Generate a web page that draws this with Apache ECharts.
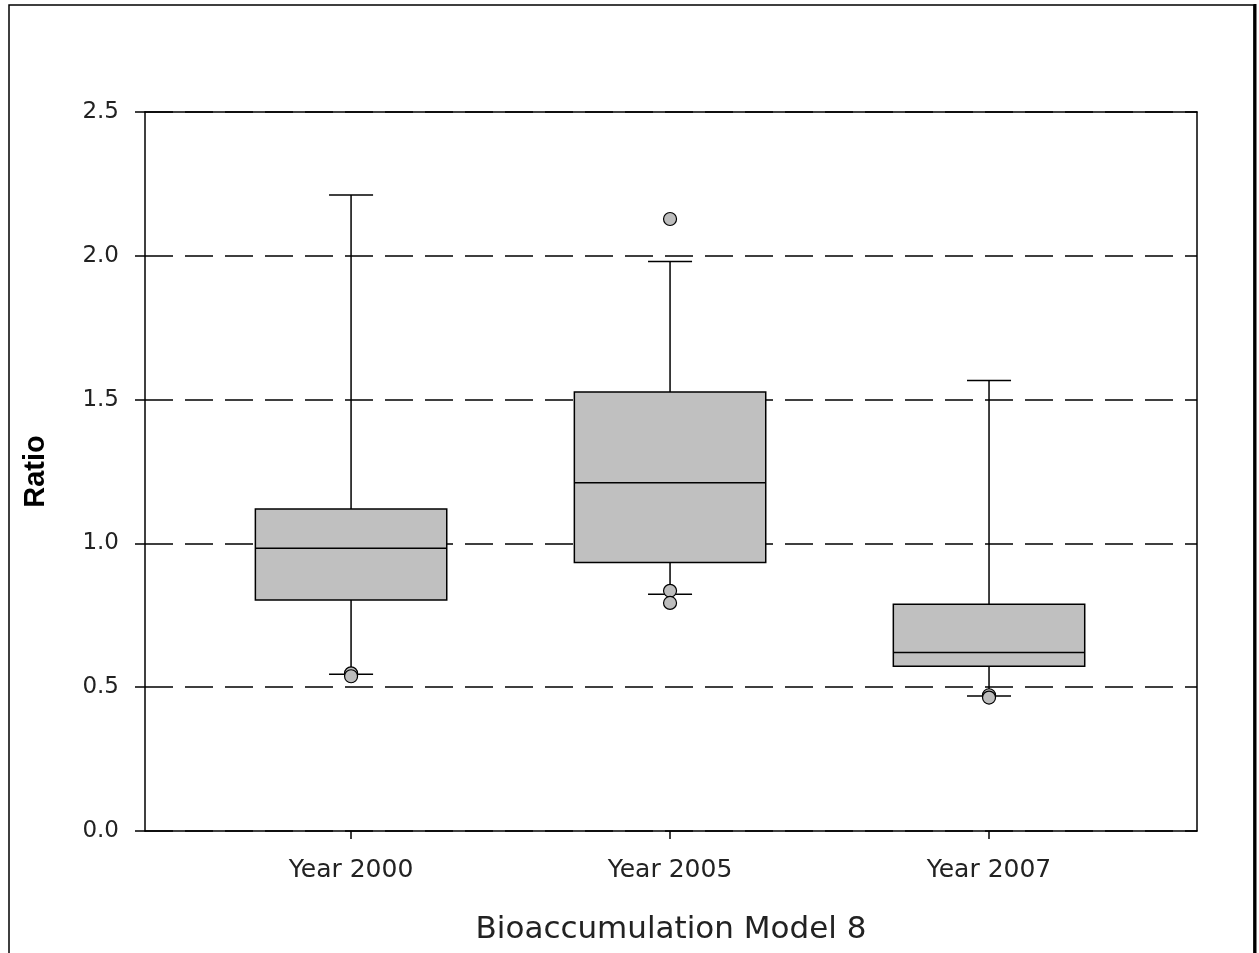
<!DOCTYPE html>
<html>
<head>
<meta charset="utf-8">
<script src="https://cdn.jsdelivr.net/npm/echarts@6/dist/echarts.min.js"></script>
<style>html,body{margin:0;padding:0;background:#fff;}#c{width:1259px;height:953px;}</style>
</head>
<body>
<div id="c"></div>
<script>
const categories = ['Year 2000', 'Year 2005', 'Year 2007'];
const categoryPositions = [0, 1, 2];
const whiskerLow  = [0.545, 0.823, 0.469];
const quartile1   = [0.803, 0.934, 0.573];
const medians     = [0.983, 1.211, 0.621];
const quartile3   = [1.120, 1.526, 0.788];
const whiskerHigh = [2.211, 1.980, 1.566];
const outlierCategory = [0, 0, 1, 1, 1, 2, 2];
const outlierValues   = [0.548, 0.538, 2.128, 0.835, 0.793, 0.472, 0.464];
const yTicks = [0.0, 0.5, 1.0, 1.5, 2.0, 2.5];

const boxData = categories.map((c, i) => [categoryPositions[i], whiskerLow[i], quartile1[i], medians[i], quartile3[i], whiskerHigh[i]]);
const outlierData = outlierValues.map((v, i) => [categoryPositions[outlierCategory[i]], v]);

const chart = echarts.init(document.getElementById('c'), null, {renderer: 'canvas'});
const FONT = 'DejaVu Sans, Liberation Sans, sans-serif';
const ls = {stroke: '#000', lineWidth: 1.5};

chart.setOption({
  animation: false,
  backgroundColor: '#fff',
  grid: {left: 145, top: 112, right: 62, bottom: 122, containLabel: false},
  graphic: [
    {type: 'rect', shape: {x: 9, y: 5, width: 1245, height: 970}, style: {fill: 'none', stroke: '#000', lineWidth: 1.5}, z: 100},
    {type: 'line', shape: {x1: 1255, y1: 4, x2: 1255, y2: 953}, style: {stroke: '#000', lineWidth: 3}, z: 100}
  ],
  xAxis: [{
    type: 'value', min: -0.646, max: 2.652, position: 'bottom', z: 10,
    axisLine: {onZero: false, lineStyle: {color: '#000', width: 1.5}},
    axisTick: {show: true, length: 8, customValues: categoryPositions, lineStyle: {color: '#000', width: 1.5}},
    axisLabel: {color: '#222', fontSize: 25, fontFamily: FONT, margin: 27, customValues: categoryPositions,
      formatter: v => categories[Math.round(v)] || ''},
    name: 'Bioaccumulation Model 8', nameLocation: 'middle', nameGap: 83,
    nameTextStyle: {color: '#222', fontSize: 31, fontFamily: FONT},
    splitLine: {show: false}
  }, {
    type: 'value', min: -0.646, max: 2.652, position: 'top', z: 10,
    axisLine: {show: true, onZero: false, lineStyle: {color: '#000', width: 1.5}},
    axisTick: {show: false}, axisLabel: {show: false}, splitLine: {show: false}
  }],
  yAxis: [{
    type: 'value', min: 0, max: 2.5, interval: 0.5,
    axisLine: {show: true, onZero: false, lineStyle: {color: '#000', width: 1.5}},
    axisTick: {show: true, length: 10, lineStyle: {color: '#000', width: 1.5}},
    axisLabel: {color: '#222', fontSize: 23, fontFamily: FONT, margin: 26,
      formatter: v => (yTicks.includes(v) ? v.toFixed(1) : '')},
    splitLine: {show: true, lineStyle: {color: '#000', width: 1.5, type: [28, 12]}},
    name: 'Ratio', nameLocation: 'middle', nameGap: 95, nameRotate: 90,
    nameTextStyle: {color: '#000', fontSize: 29, fontWeight: 'bold', fontFamily: 'Liberation Sans, Arial, sans-serif'}
  }, {
    type: 'value', min: 0, max: 2.5, interval: 0.5, position: 'right', z: 10,
    axisLine: {show: true, onZero: false, lineStyle: {color: '#000', width: 1.5}},
    axisTick: {show: false}, axisLabel: {show: false}, splitLine: {show: false}
  }],
  series: [{
    type: 'custom',
    data: boxData,
    z: 3,
    renderItem: function (params, api) {
      const x = api.value(0);
      const unitW = api.size([1, 0])[0];
      const boxW = unitW * 0.6;
      const capW = unitW * 0.138;
      const pMin = api.coord([x, api.value(1)]);
      const pQ1 = api.coord([x, api.value(2)]);
      const pMed = api.coord([x, api.value(3)]);
      const pQ3 = api.coord([x, api.value(4)]);
      const pMax = api.coord([x, api.value(5)]);
      const cx = pMed[0];
      return {
        type: 'group',
        children: [
          {type: 'line', shape: {x1: cx, y1: pQ3[1], x2: cx, y2: pMax[1]}, style: ls},
          {type: 'line', shape: {x1: cx, y1: pQ1[1], x2: cx, y2: pMin[1]}, style: ls},
          {type: 'line', shape: {x1: cx - capW / 2, y1: pMax[1], x2: cx + capW / 2, y2: pMax[1]}, style: ls},
          {type: 'line', shape: {x1: cx - capW / 2, y1: pMin[1], x2: cx + capW / 2, y2: pMin[1]}, style: ls},
          {type: 'rect', shape: {x: cx - boxW / 2, y: pQ3[1], width: boxW, height: pQ1[1] - pQ3[1]},
            style: {fill: '#c0c0c0', stroke: '#000', lineWidth: 1.5}},
          {type: 'line', shape: {x1: cx - boxW / 2, y1: pMed[1], x2: cx + boxW / 2, y2: pMed[1]}, style: ls}
        ]
      };
    }
  }, {
    type: 'scatter',
    data: outlierData,
    symbol: 'circle',
    symbolSize: 13,
    z: 5,
    itemStyle: {color: '#bdbdbd', borderColor: '#000', borderWidth: 1.2, opacity: 1}
  }]
});
</script>
</body>
</html>
